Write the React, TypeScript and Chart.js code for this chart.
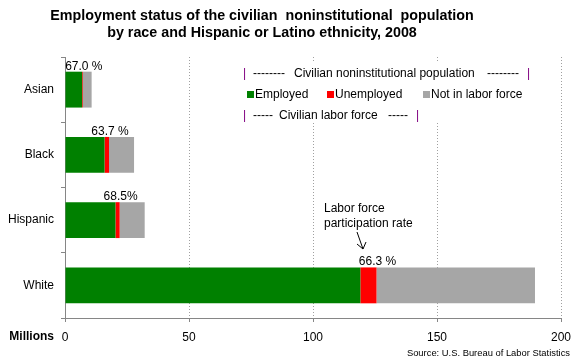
import React, { useEffect, useRef } from "react";
import { Chart, registerables } from "chart.js";

Chart.register(...registerables);

const categories = ["Asian", "Black", "Hispanic", "White"];
const employed = [6.9, 15.95, 20.35, 119.1];
const unemployed = [0.29, 1.79, 1.68, 6.51];
const notInLaborForce = [3.55, 10.1, 10.1, 63.9];
const participationLabels = ["67.0 %", "63.7 %", "68.5%", "66.3 %"];
const xMin = 0;
const xMax = 200;
const xStep = 50;

const titleLines = [
  "Employment status of the civilian  noninstitutional  population",
  "by race and Hispanic or Latino ethnicity, 2008",
];
const sourceText = "Source: U.S. Bureau of Labor Statistics";
const axisTitle = "Millions";
const annotationLines = ["Labor force", "participation rate"];

const FONT = "'Liberation Sans', Arial, sans-serif";
const GREEN = "#008000";
const RED = "#ff0000";
const GRAY = "#a6a6a6";
const PURPLE = "#800080";
const AXIS = "#868686";

const overlay = {
  id: "overlay",
  afterDraw(chart: any) {
    const ctx = chart.ctx as CanvasRenderingContext2D;
    ctx.save();
    ctx.fillStyle = "#000";

    // Title
    ctx.font = `bold 14.3px ${FONT}`;
    ctx.textAlign = "center";
    ctx.textBaseline = "alphabetic";
    ctx.fillText(titleLines[0], 262, 20);
    ctx.fillText(titleLines[1], 262, 37);

    // Participation labels above bars
    const meta = chart.getDatasetMeta(1);
    ctx.font = `12px ${FONT}`;
    meta.data.forEach((el: any, i: number) => {
      const topY = el.y - el.height / 2;
      ctx.fillText(participationLabels[i], el.x + 1, topY - 2);
    });

    // Legend box
    ctx.fillStyle = "#fff";
    ctx.fillRect(236, 62, 300, 61);
    ctx.textAlign = "left";
    ctx.font = `12px ${FONT}`;
    // line 1
    ctx.fillStyle = PURPLE;
    ctx.fillText("|", 243, 77);
    ctx.fillText("|", 527, 77);
    ctx.fillStyle = "#000";
    ctx.fillText("--------", 253, 77);
    ctx.fillText("Civilian noninstitutional population", 294, 77);
    ctx.fillText("--------", 487, 77);
    // line 2
    const items: [string, string, number][] = [
      [GREEN, "Employed", 247],
      [RED, "Unemployed", 327],
      [GRAY, "Not in labor force", 423],
    ];
    items.forEach(([c, t, x]) => {
      ctx.fillStyle = c;
      ctx.fillRect(x, 91, 7, 7);
      ctx.fillStyle = "#000";
      ctx.fillText(t, x + 8, 98);
    });
    // line 3
    ctx.fillStyle = PURPLE;
    ctx.fillText("|", 243, 119);
    ctx.fillText("|", 416, 119);
    ctx.fillStyle = "#000";
    ctx.fillText("-----", 253, 119);
    ctx.fillText("Civilian labor force", 279, 119);
    ctx.fillText("-----", 388, 119);

    // Annotation
    ctx.fillText(annotationLines[0], 324, 212);
    ctx.fillText(annotationLines[1], 324, 227);
    ctx.strokeStyle = "#000";
    ctx.lineWidth = 1;
    ctx.beginPath();
    ctx.moveTo(357, 232);
    ctx.lineTo(363, 249);
    ctx.moveTo(357, 244);
    ctx.lineTo(363, 249);
    ctx.lineTo(366, 242);
    ctx.stroke();

    // Axis title
    ctx.font = `bold 12px ${FONT}`;
    ctx.textAlign = "right";
    ctx.textBaseline = "middle";
    ctx.fillText(axisTitle, 54, 337);

    // Source
    ctx.font = `9.4px ${FONT}`;
    ctx.textBaseline = "alphabetic";
    ctx.fillText(sourceText, 570, 356);

    ctx.restore();
  },
};

export default function App() {
  const ref = useRef<HTMLCanvasElement>(null);
  useEffect(() => {
    if (!ref.current) return;
    const chart = new Chart(ref.current, {
      type: "bar",
      data: {
        labels: categories,
        datasets: [
          { label: "Employed", data: employed, backgroundColor: GREEN },
          { label: "Unemployed", data: unemployed, backgroundColor: RED },
          { label: "Not in labor force", data: notInLaborForce, backgroundColor: GRAY },
        ],
      },
      options: {
        indexAxis: "y",
        responsive: false,
        animation: false,
        devicePixelRatio: 1,
        layout: { padding: { left: 0, top: 57, right: 19, bottom: 0 } },
        datasets: { bar: { categoryPercentage: 1, barPercentage: 0.55 } },
        plugins: { legend: { display: false }, title: { display: false }, tooltip: { enabled: false } },
        scales: {
          x: {
            stacked: true,
            min: xMin,
            max: xMax,
            ticks: { stepSize: xStep, color: "#000", font: { family: FONT, size: 12 }, padding: 8, maxRotation: 0 },
            grid: { color: "#a0a0a0", tickColor: AXIS, tickLength: 4, drawTicks: true },
            border: { color: AXIS, dash: [1, 2] },
            afterFit: (s: any) => { s.height = 42; },
          },
          y: {
            stacked: true,
            ticks: { color: "#000", font: { family: FONT, size: 12 }, padding: 7 },
            grid: { drawOnChartArea: false, drawTicks: true, tickLength: 4, color: AXIS, offset: true },
            border: { color: AXIS },
            afterFit: (s: any) => { s.width = 65; },
          },
        },
      } as any,
      plugins: [overlay],
    });
    return () => chart.destroy();
  }, []);
  return (
    <div style={{ position: "absolute", left: 0, top: 0, width: 580, height: 360 }}>
      <canvas ref={ref} width={580} height={360} />
    </div>
  );
}
